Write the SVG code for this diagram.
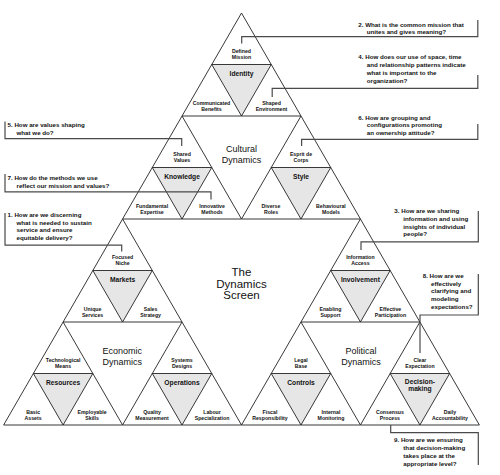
<svg xmlns="http://www.w3.org/2000/svg" xmlns:xlink="http://www.w3.org/1999/xlink" width="500" height="475" viewBox="0 0 500 475">
<style>
.tri{fill:none;stroke:#222;stroke-width:0.9;stroke-linejoin:miter}
.inv{fill:#e6e6e6;stroke:#222;stroke-width:0.9}
.sm{font-family:"Liberation Sans",Arial,sans-serif;font-size:5.2px;font-weight:bold;fill:#111;text-anchor:middle}
.md{font-family:"Liberation Sans",Arial,sans-serif;font-size:6.7px;font-weight:bold;fill:#111;text-anchor:middle}
.dyn{font-family:"Liberation Sans",Arial,sans-serif;font-size:9px;fill:#111;text-anchor:middle}
.big{font-family:"Liberation Sans",Arial,sans-serif;font-size:11.5px;fill:#111;text-anchor:middle}
.q{font-family:"Liberation Sans",Arial,sans-serif;font-size:6.2px;font-weight:bold;fill:#111}
.con{fill:none;stroke:#4a4a4a;stroke-width:1.2}
</style>
<defs>
<polygon id="t" class="tri" points="0,0 -59.47,103 59.47,103"/>
<polygon id="v" class="inv" points="-29.73,51.5 29.73,51.5 0,103"/>
</defs>
<rect width="500" height="475" fill="#fff"/>

<g id="identity" transform="translate(241.5,13)">
<use href="#v"/><use href="#t"/>
<text class="sm" x="0" y="39.5">Defined<tspan x="0" y="46.2">Mission</tspan></text>
<text class="md" x="0" y="63">Identity</text>
<text class="sm" x="-30" y="91.5">Communicated<tspan x="-30" y="98">Benefits</tspan></text>
<text class="sm" x="30" y="91.5">Shaped<tspan x="30" y="98">Environment</tspan></text>
</g>
<g id="knowledge" transform="translate(182.03,116)">
<use href="#v"/><use href="#t"/>
<text class="sm" x="0" y="39.5">Shared<tspan x="0" y="46.2">Values</tspan></text>
<text class="md" x="0" y="63">Knowledge</text>
<text class="sm" x="-30" y="91.5">Fundamental<tspan x="-30" y="98">Expertise</tspan></text>
<text class="sm" x="30" y="91.5">Innovative<tspan x="30" y="98">Methods</tspan></text>
</g>
<g id="style" transform="translate(300.97,116)">
<use href="#v"/><use href="#t"/>
<text class="sm" x="0" y="39.5">Esprit de<tspan x="0" y="46.2">Corps</tspan></text>
<text class="md" x="0" y="63">Style</text>
<text class="sm" x="-30" y="91.5">Diverse<tspan x="-30" y="98">Roles</tspan></text>
<text class="sm" x="30" y="91.5">Behavioural<tspan x="30" y="98">Models</tspan></text>
</g>
<g id="markets" transform="translate(122.57,219)">
<use href="#v"/><use href="#t"/>
<text class="sm" x="0" y="39.5">Focused<tspan x="0" y="46.2">Niche</tspan></text>
<text class="md" x="0" y="63">Markets</text>
<text class="sm" x="-30" y="91.5">Unique<tspan x="-30" y="98">Services</tspan></text>
<text class="sm" x="28" y="91.5">Sales<tspan x="28" y="98">Strategy</tspan></text>
</g>
<g id="resources" transform="translate(63.1,322)">
<use href="#v"/><use href="#t"/>
<text class="sm" x="0" y="39.5">Technological<tspan x="0" y="46.2">Means</tspan></text>
<text class="md" x="0" y="63">Resources</text>
<text class="sm" x="-30" y="91.5">Basic<tspan x="-30" y="98">Assets</tspan></text>
<text class="sm" x="29" y="91.5">Employable<tspan x="29" y="98">Skills</tspan></text>
</g>
<g id="operations" transform="translate(182.03,322)">
<use href="#v"/><use href="#t"/>
<text class="sm" x="0" y="39.5">Systems<tspan x="0" y="46.2">Designs</tspan></text>
<text class="md" x="0" y="63">Operations</text>
<text class="sm" x="-30" y="91.5">Quality<tspan x="-30" y="98">Measurement</tspan></text>
<text class="sm" x="30" y="91.5">Labour<tspan x="30" y="98">Specialization</tspan></text>
</g>
<g id="involvement" transform="translate(360.43,219)">
<use href="#v"/><use href="#t"/>
<text class="sm" x="0" y="39.5">Information<tspan x="0" y="46.2">Access</tspan></text>
<text class="md" x="0" y="63">Involvement</text>
<text class="sm" x="-30" y="91.5">Enabling<tspan x="-30" y="98">Support</tspan></text>
<text class="sm" x="30" y="91.5">Effective<tspan x="30" y="98">Participation</tspan></text>
</g>
<g id="controls" transform="translate(300.97,322)">
<use href="#v"/><use href="#t"/>
<text class="sm" x="0" y="39.5">Legal<tspan x="0" y="46.2">Base</tspan></text>
<text class="md" x="0" y="63">Controls</text>
<text class="sm" x="-31" y="91.5">Fiscal<tspan x="-31" y="98">Responsibility</tspan></text>
<text class="sm" x="30" y="91.5">Internal<tspan x="30" y="98">Monitoring</tspan></text>
</g>
<g id="decision-making" transform="translate(419.9,322)">
<use href="#v"/><use href="#t"/>
<text class="sm" x="0" y="39.5">Clear<tspan x="0" y="46.2">Expectation</tspan></text>
<text class="md" x="0" y="62">Decision-<tspan x="0" y="68.5">making</tspan></text>
<text class="sm" x="-30" y="91.5">Consensus<tspan x="-30" y="98">Process</tspan></text>
<text class="sm" x="30" y="91.5">Daily<tspan x="30" y="98">Accountability</tspan></text>
</g>

<g id="cultural-dynamics"><text class="dyn" x="241.5" y="151.5">Cultural<tspan x="241.5" y="162.5">Dynamics</tspan></text></g>
<g id="economic-dynamics"><text class="dyn" x="122.3" y="354">Economic<tspan x="122.3" y="365">Dynamics</tspan></text></g>
<g id="political-dynamics"><text class="dyn" x="361" y="354">Political<tspan x="361" y="365">Dynamics</tspan></text></g>
<g id="dynamics-screen"><text class="big" x="241.5" y="276">The<tspan x="241.5" y="287.5">Dynamics</tspan><tspan x="241.5" y="298.8">Screen</tspan></text></g>

<g id="connectors">
<polyline class="con" points="241.7,43.5 241.7,36.6 477.8,36.6 477.8,20"/>
<polyline class="con" points="272.2,97 272.2,88.4 477.8,88.4 477.8,75"/>
<polyline class="con" points="301.6,146 301.6,139.4 477.8,139.4 477.8,124"/>
<polyline class="con" points="5,121.5 5,138.6 181.7,138.6 181.7,146"/>
<polyline class="con" points="5,174 5,191.8 211,191.8 211,199.5"/>
<polyline class="con" points="5,213 5,245.2 121.7,245.2 121.7,251.5"/>
<polyline class="con" points="361,250 361,241.8 478.3,241.8 478.3,211"/>
<polyline class="con" points="420,353 420,315 478.3,315 478.3,274"/>
<polyline class="con" points="390.7,425 390.7,432.7 478.3,432.7 478.3,465"/>
</g>

<g id="q2"><text class="q" x="358.3" y="27">2. What is the common mission that<tspan x="366.7" y="34">unites and gives meaning?</tspan></text></g>
<g id="q4"><text class="q" x="358.3" y="59">4. How does our use of space, time<tspan x="366.7" y="67">and relationship patterns indicate</tspan><tspan x="366.7" y="75">what is important to the</tspan><tspan x="366.7" y="83">organization?</tspan></text></g>
<g id="q6"><text class="q" x="358.3" y="119.5">6. How are grouping and<tspan x="366.7" y="127">configurations promoting</tspan><tspan x="366.7" y="134.5">an ownership attitude?</tspan></text></g>
<g id="q5"><text class="q" x="7.5" y="127">5. How are values shaping<tspan x="16.5" y="135">what we do?</tspan></text></g>
<g id="q7"><text class="q" x="7.5" y="180.3">7. How do the methods we use<tspan x="16.5" y="188">reflect our mission and values?</tspan></text></g>
<g id="q1"><text class="q" x="7.5" y="217">1. How are we discerning<tspan x="16.5" y="224.5">what is needed to sustain</tspan><tspan x="16.5" y="232">service and ensure</tspan><tspan x="16.5" y="239.5">equitable delivery?</tspan></text></g>
<g id="q3"><text class="q" x="394.3" y="213">3. How are we sharing<tspan x="403.3" y="221">information and using</tspan><tspan x="403.3" y="228.5">insights of individual</tspan><tspan x="403.3" y="236">people?</tspan></text></g>
<g id="q8"><text class="q" x="422.7" y="278">8. How are we<tspan x="431" y="285.7">effectively</tspan><tspan x="431" y="293.3">clarifying and</tspan><tspan x="431" y="301">modeling</tspan><tspan x="431" y="309">expectations?</tspan></text></g>
<g id="q9"><text class="q" x="394" y="442">9. How are we ensuring<tspan x="403.3" y="450">that decision-making</tspan><tspan x="403.3" y="458">takes place at the</tspan><tspan x="403.3" y="465.5">appropriate level?</tspan></text></g>
</svg>
